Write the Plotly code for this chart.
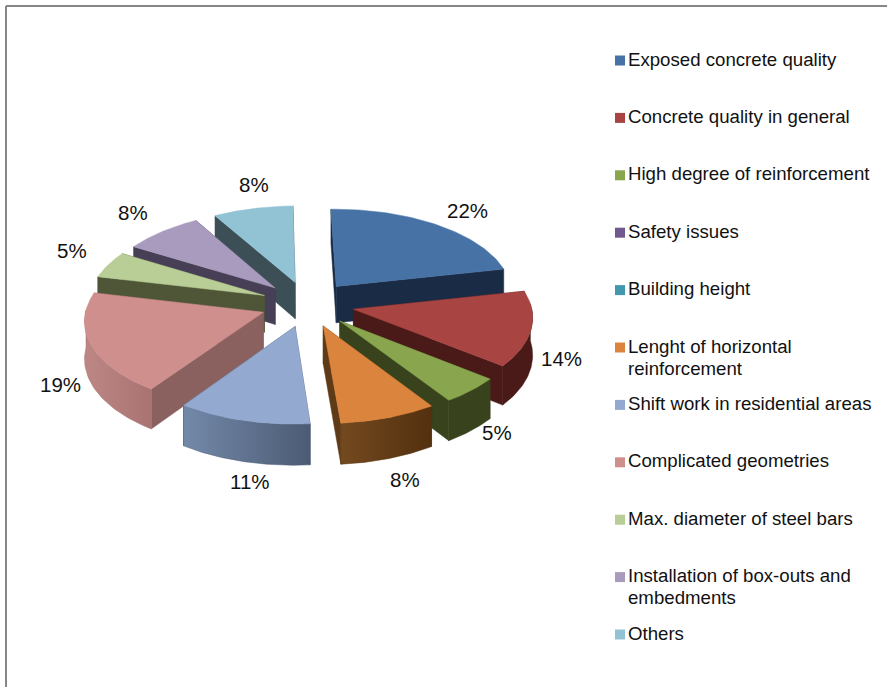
import numpy as np
import plotly.graph_objects as go

categories = ["Exposed concrete quality", "Concrete quality in general", "High degree of reinforcement",
              "Safety issues", "Building height", "Lenght of horizontal<br>reinforcement",
              "Shift work in residential areas", "Complicated geometries", "Max. diameter of steel bars",
              "Installation of box-outs and<br>embedments", "Others"]
values = [22, 14, 5, 0, 0, 8, 11, 19, 5, 8, 8]

top_colors = ["#4672A6", "#A84441", "#89A54E", "#71588F", "#4198AF", "#DB843D", "#93A9CF", "#CF8F8D", "#B9CD96", "#A99BBD", "#92C3D4"]
edge_colors = ["#1A2C45", "#4A1A18", "#38421C", "#3A2C4A", "#1C4450", "#5E3A16", "#4C5B74", "#8B6160", "#4F5638", "#463F55", "#3C4F57"]
wall_left = ["#1A2C45", "#4A1A18", "#38421C", "#3A2C4A", "#1C4450", "#74491F", "#7389A9", "#BC8785", "#4F5638", "#463F55", "#3C4F57"]
wall_right = ["#1A2C45", "#4A1A18", "#38421C", "#3A2C4A", "#1C4450", "#53300F", "#4C5B74", "#A87371", "#4F5638", "#463F55", "#3C4F57"]
label_x = [467, 561, 497, None, None, 405, 250, 60, 72, 133, 254]
label_y = [210, 358, 432, None, None, 479, 481, 384, 250, 212, 184]
draw_order = [10, 0, 9, 8, 1, 7, 2, 6, 5]

# projection of the pie plane to the page
CX, CY, AX, SH, BY, WP, TX, DEPTH, PULL = 307.5, 304.0, 177.0, -3.5, 86.0, 0.08, -2.0, 37.0, 0.265


def project(X, Y, drop=0.0):
    d = 1 + WP * Y
    return CX + (AX * X + SH * Y) / d, CY + (TX * X - BY * Y) / d + drop / d


fig = go.Figure()


def poly(x, y, fillcolor=None, grad=None):
    kw = dict(fillgradient=dict(type="horizontal", colorscale=[[0, grad[0]], [1, grad[1]]])) if grad else dict(fillcolor=fillcolor)
    fig.add_trace(go.Scatter(x=x, y=y, mode="lines", fill="toself", line=dict(width=0.5, color=fillcolor or grad[1]),
                             hoverinfo="skip", showlegend=False, **kw))


total = sum(values)
edges = np.radians(np.concatenate([[0], np.cumsum(values)]) / total * 360)
for i in draw_order:
    a0, a1 = edges[i], edges[i + 1]
    am = (a0 + a1) / 2
    ox, oy = PULL * np.sin(am), PULL * np.cos(am)
    t = np.linspace(a0, a1, 60)
    X, Y = ox + np.sin(t), oy + np.cos(t)
    # radial walls, farther one first
    rad = []
    for a in (a0, a1):
        ex, ey = ox + np.sin(a), oy + np.cos(a)
        x0, y0 = project(ox, oy)
        x1, y1 = project(ex, ey)
        x2, y2 = project(ex, ey, DEPTH)
        x3, y3 = project(ox, oy, DEPTH)
        rad.append((ey, [x0, x1, x2, x3, x0], [y0, y1, y2, y3, y0]))
    for _, xs, ys in sorted(rad, key=lambda r: -r[0]):
        poly(xs, ys, fillcolor=edge_colors[i])
    # outer wall, only the part that faces the viewer
    front = np.cos(t) < 0.05
    if front.any():
        tx, ty = project(X[front], Y[front])
        bx, by = project(X[front], Y[front], DEPTH)
        poly(np.r_[tx, bx[::-1], tx[0]], np.r_[ty, by[::-1], ty[0]], grad=(wall_left[i], wall_right[i]))
    # top face
    ax, ay = project(ox, oy)
    sx, sy = project(X, Y)
    poly(np.r_[ax, sx, ax], np.r_[ay, sy, ay], fillcolor=top_colors[i])

# legend swatches and text
LEG_TOP, LEG_STEP, LEG_LINE = 60.5, 57.4, 22.0
leg_y = [LEG_TOP + k * LEG_STEP for k in range(len(categories))]
fig.add_trace(go.Scatter(x=[620] * len(categories), y=leg_y, mode="markers",
                         marker=dict(symbol="square", size=10, color=top_colors, line=dict(width=0)),
                         hoverinfo="skip", showlegend=False))
annotations = []
for name, y in zip(categories, leg_y):
    for n, line in enumerate(name.split("<br>")):
        annotations.append(dict(x=626, y=y - 1.5 + n * LEG_LINE, xref="x", yref="y", text=line, showarrow=False,
                                xanchor="left", yanchor="middle", align="left",
                                font=dict(family="Liberation Sans", size=18.65, color="#111111")))
for v, x, y in zip(values, label_x, label_y):
    if v:
        annotations.append(dict(x=x, y=y, xref="x", yref="y", text=f"{v}%", showarrow=False,
                                font=dict(family="Liberation Sans", size=20.5, color="#111111")))

fig.update_layout(
    width=887, height=687, margin=dict(l=0, r=0, t=0, b=0), paper_bgcolor="white", plot_bgcolor="white",
    xaxis=dict(range=[0, 887], visible=False, fixedrange=True),
    yaxis=dict(range=[687, 0], visible=False, fixedrange=True),
    annotations=annotations, showlegend=False,
    shapes=[dict(type="line", xref="x", yref="y", x0=6, x1=887, y0=6, y1=6, line=dict(color="#868686", width=2)),
            dict(type="line", xref="x", yref="y", x0=6, x1=6, y0=6, y1=687, line=dict(color="#868686", width=2))],
)
fig.write_html("out.html", post_script="document.body.style.margin='0';", config=dict(displayModeBar=False))
